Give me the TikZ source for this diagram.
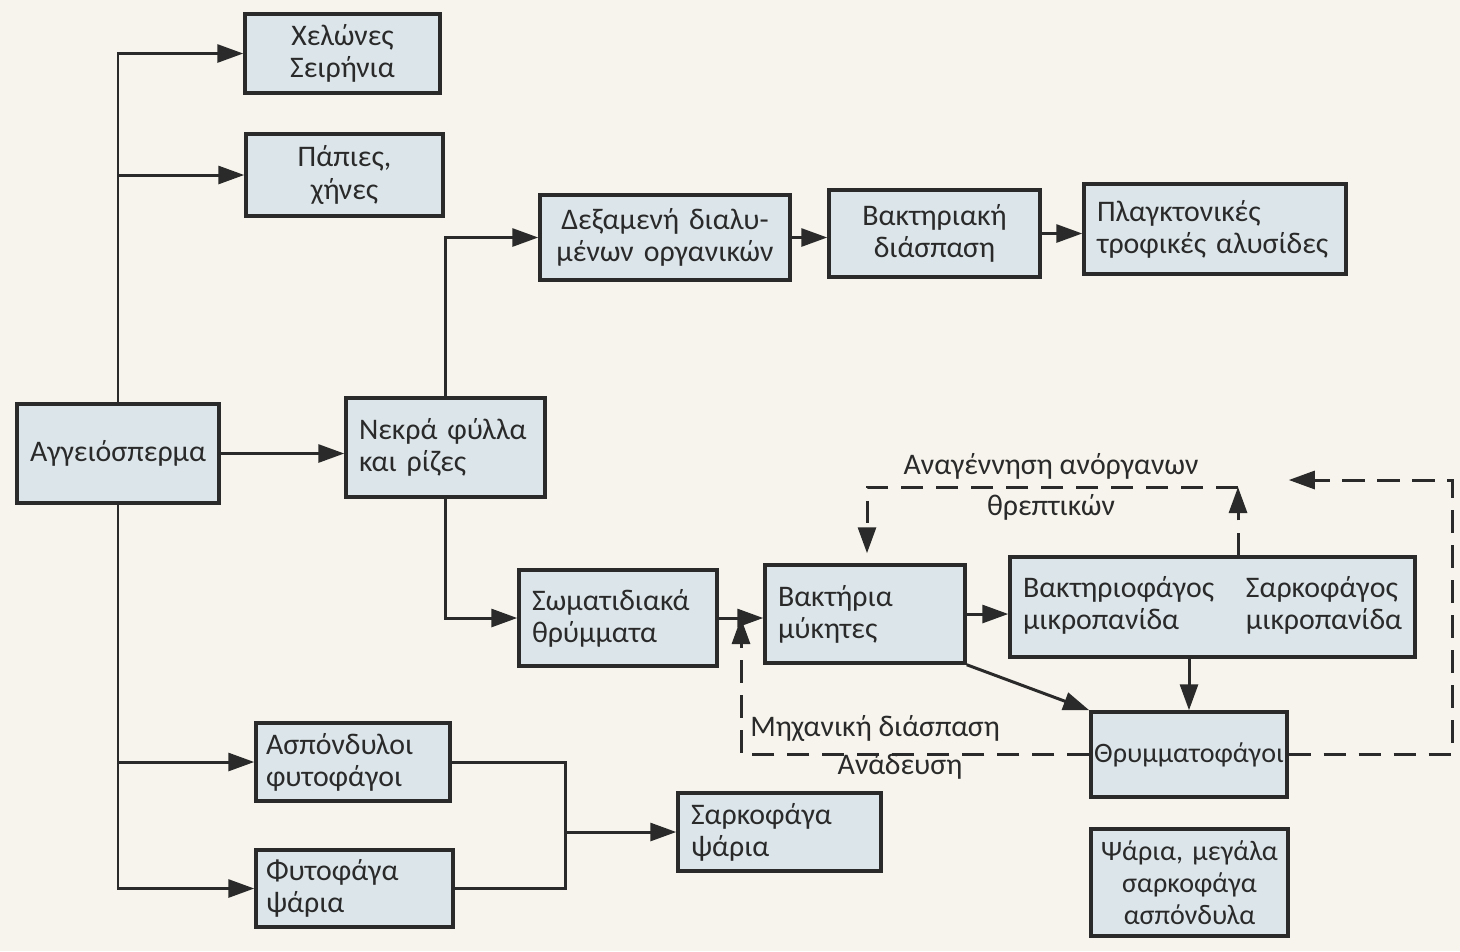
\documentclass[tikz,border=0pt]{standalone}
\usepackage{fontspec}
\setmainfont{Carlito}
\usetikzlibrary{arrows.meta,positioning}
\definecolor{paper}{HTML}{F6F4EC}
\definecolor{boxfill}{HTML}{DCE5EA}
\definecolor{ink}{HTML}{2A2A2A}

\begin{document}
\begin{tikzpicture}[
  x=0.02cm, y=-0.02cm,
  box/.style={rectangle, draw=ink, line width=2pt, fill=boxfill, text=ink,
              inner xsep=0.26cm, inner ysep=0pt, align=left,
              font=\fontsize{17}{18.3}\selectfont},
  flow/.style={-{Triangle[length=0.52cm,width=0.36cm]}, line width=1.7pt, draw=ink},
  link/.style={line width=1.7pt, draw=ink},
  dashflow/.style={flow, dash pattern=on 0.45cm off 0.25cm},
  note/.style={text=ink, inner sep=0pt, font=\fontsize{17}{18.3}\selectfont},
]

% paper
\fill[paper] (0,0) rectangle (1460,951);

% left column
\node[box, minimum width=3.84cm, minimum height=1.98cm, align=center] (angio) at (118,453.5) {Αγγειόσπερμα};
\node[box, text width=3.38cm, minimum height=1.58cm, align=center] (cheli) at (342.5,53.5) {Χελώνες\\Σειρήνια};
\node[box, text width=3.42cm, minimum height=1.64cm, align=center] (papies) at (344.5,175) {Πάπιες,\\χήνες};
\node[box, text width=3.46cm, minimum height=1.98cm] (nekra) at (445.5,447.5) {Νεκρά φύλλα\\και ρίζες};
\node[box, text width=3.48cm, minimum height=1.56cm, inner xsep=0.2cm] (aspon) at (353,762) {Ασπόνδυλοι\\φυτοφάγοι};
\node[box, text width=3.54cm, minimum height=1.54cm, inner xsep=0.2cm] (fytpsar) at (354.5,888.5) {Φυτοφάγα\\ψάρια};
\node[box, text width=3.54cm, minimum height=1.56cm] (sarkpsar) at (779.5,832) {Σαρκοφάγα\\ψάρια};

% dissolved organics chain
\node[box, text width=4.48cm, minimum height=1.70cm, align=center] (dexam) at (665,237.5) {Δεξαμενή διαλυ-\\μένων οργανικών};
\node[box, text width=3.70cm, minimum height=1.74cm, align=center] (bakdias) at (934.5,233.5) {Βακτηριακή\\διάσπαση};
\node[box, text width=4.72cm, minimum height=1.80cm] (plagk) at (1215,229) {Πλαγκτονικές\\τροφικές αλυσίδες};

% detritus chain
\node[box, text width=3.44cm, minimum height=1.92cm] (somat) at (618,618) {Σωματιδιακά\\θρύμματα};
\node[box, text width=3.48cm, minimum height=1.96cm] (bakt) at (865,614) {Βακτήρια\\μύκητες};
\node[box, text width=7.58cm, minimum height=2.00cm] (mikro) at (1212.5,607)
  {\begin{tabular}{@{}p{4.46cm}@{}l@{}}Βακτηριοφάγος & Σαρκοφάγος\\ μικροπανίδα & μικροπανίδα\end{tabular}};
\node[box, minimum width=3.92cm, minimum height=1.70cm, inner xsep=0.02cm,
      font=\fontsize{16}{18.3}\selectfont] (thrym) at (1189,754.5) {Θρυμματοφάγοι};
\node[box, text width=3.86cm, minimum height=2.14cm, inner xsep=0.04cm, align=center,
      font=\fontsize{16}{18.3}\selectfont] (psaria) at (1189.5,882.5) {Ψάρια, μεγάλα\\σαρκοφάγα\\ασπόνδυλα};

% labels
\node[note] (regentop) at (1051,466) {Αναγέννηση ανόργανων};
\node[note] (regenbot) at (1051,507) {θρεπτικών};
\node[note, anchor=west] (mech) at (750,728) {Μηχανική διάσπαση};
\node[note] (stir) at (900,766) {Ανάδευση};

\coordinate (merge) at (565,832);
\coordinate (topL) at (867,487);
\coordinate (topR) at (1238,487);
\coordinate (loopR) at (1452,480);
\coordinate (loopL) at (741,745);

% solid flows
\draw[flow] (angio.north) |- (cheli);
\draw[flow] (angio.north) |- (papies);
\draw[flow] (angio.east) -- (angio.east -| nekra.west);
\draw[flow] (angio.south) |- (aspon);
\draw[flow] (angio.south) |- (fytpsar);
\draw[flow] (nekra.north) |- (dexam);
\draw[flow] (nekra.south) |- (somat);
\draw[flow] (dexam.east) -- (dexam.east -| bakdias.west);
\draw[flow] (bakdias.east) -- (bakdias.east -| plagk.west);
\draw[flow] (somat.east) -- (somat.east -| bakt.west);
\draw[flow] (bakt.east) -- (bakt.east -| mikro.west);
\draw[flow] (bakt.south east) -- (thrym.north west);
\draw[flow] (mikro.south -| thrym.north) -- (thrym.north);
\draw[link] (aspon.east) -| (merge) |- (fytpsar.east);
\draw[flow] (merge) -- (sarkpsar);

% dashed recycling loops
\draw[dashflow] (mikro.north -| topR) -- (topR);
\draw[dashflow, shorten >=0.2cm] (topR) -- (topL) -- (bakt.north -| topL);
\draw[dashflow] (thrym.east) -- (thrym.east -| loopR) -- (loopR) -- (loopR -| thrym.east);
\draw[dashflow] (thrym.west) -- (thrym.west -| loopL) -- (somat.east -| loopL);

\end{tikzpicture}
\end{document}
